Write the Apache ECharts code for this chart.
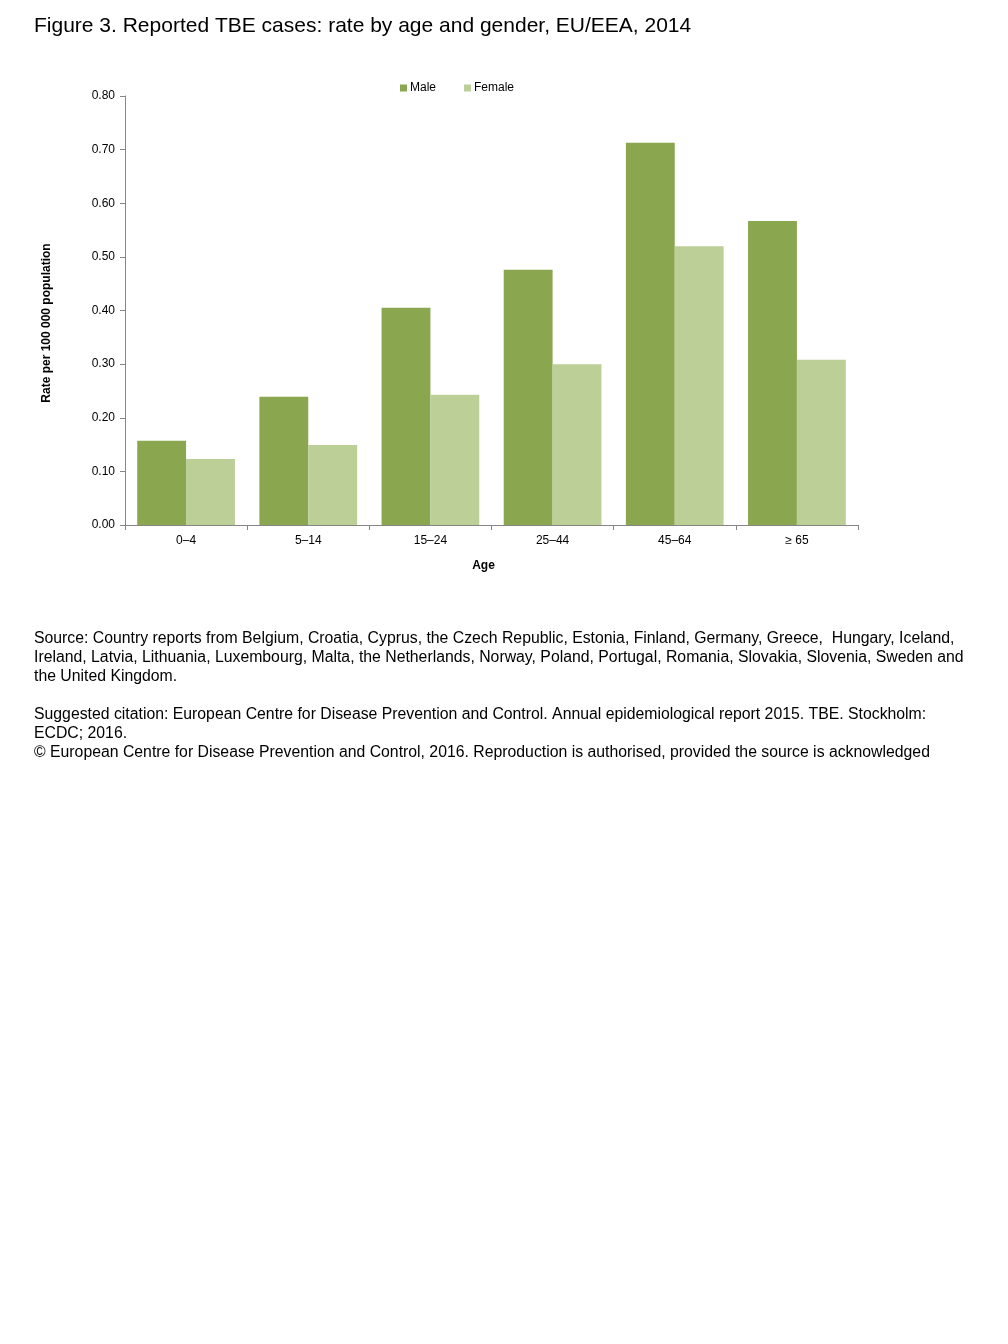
<!DOCTYPE html>
<html><head><meta charset="utf-8">
<script src="https://cdn.jsdelivr.net/npm/echarts@6/dist/echarts.min.js"></script>
<style>html,body{margin:0;padding:0;background:#fff}#c{width:1008px;height:1344px}</style>
</head><body><div id="c"></div>
<script>
const categories = ['0\u20134', '5\u201314', '15\u201324', '25\u201344', '45\u201364', '\u2265 65'];
const maleRates = [0.157, 0.239, 0.405, 0.476, 0.713, 0.567];
const femaleRates = [0.123, 0.149, 0.243, 0.300, 0.520, 0.308];
const yTicks = { min: 0, max: 0.8, interval: 0.1 };
const titleText = 'Figure 3. Reported TBE cases: rate by age and gender, EU/EEA, 2014';
const yAxisTitle = 'Rate per 100 000 population';
const footerLines = [
  'Source: Country reports from Belgium, Croatia, Cyprus, the Czech Republic, Estonia, Finland, Germany, Greece,  Hungary, Iceland,',
  'Ireland, Latvia, Lithuania, Luxembourg, Malta, the Netherlands, Norway, Poland, Portugal, Romania, Slovakia, Slovenia, Sweden and',
  'the United Kingdom.',
  '',
  'Suggested citation: European Centre for Disease Prevention and Control. Annual epidemiological report 2015. TBE. Stockholm:',
  'ECDC; 2016.',
  '\u00a9 European Centre for Disease Prevention and Control, 2016. Reproduction is authorised, provided the source is acknowledged'
];
const FONT = 'Liberation Sans, Arial, sans-serif';
const chart = echarts.init(document.getElementById('c'), null, {renderer: 'canvas'});
const footerGraphics = footerLines.map((t, i) => ({
  type: 'text', left: 34, top: 631 + i * 19,
  style: { text: t, font: '15.8px ' + FONT, fill: '#000' }
}));
chart.setOption({
  animation: false,
  textStyle: { fontFamily: FONT },
  graphic: [
    { type: 'text', left: 34, top: 16, style: { text: titleText, font: '21px ' + FONT, fill: '#000' } },
    { type: 'text', x: 47, y: 323, rotation: Math.PI / 2,
      style: { text: yAxisTitle, font: 'bold 12px ' + FONT, fill: '#000', align: 'center', verticalAlign: 'middle' } },
    ...footerGraphics
  ],
  legend: {
    top: 77, left: 395, itemWidth: 7, itemHeight: 7, itemGap: 28,
    icon: 'rect', textStyle: { fontSize: 12, color: '#000', fontFamily: FONT, padding: [0, 0, 0, -2] },
    data: ['Male', 'Female']
  },
  grid: { left: 125, right: 150, top: 96, bottom: 1344 - 525, containLabel: false },
  xAxis: {
    type: 'category', data: categories,
    name: 'Age', nameLocation: 'middle', nameGap: 35,
    nameTextStyle: { fontWeight: 'bold', fontSize: 12, color: '#000', fontFamily: FONT, padding: [0, 16, 0, 0] },
    axisLine: { lineStyle: { color: '#868686', width: 1 } },
    axisTick: { show: true, alignWithLabel: false, length: 5, lineStyle: { color: '#868686' } },
    axisLabel: { color: '#000', fontSize: 12, margin: 10, fontFamily: FONT }
  },
  yAxis: {
    type: 'value', min: yTicks.min, max: yTicks.max, interval: yTicks.interval,
    axisLine: { show: true, lineStyle: { color: '#868686', width: 1 } },
    axisTick: { show: true, length: 5, lineStyle: { color: '#868686' } },
    splitLine: { show: false },
    axisLabel: { color: '#000', fontSize: 12, margin: 10, formatter: v => v.toFixed(2), fontFamily: FONT }
  },
  series: [
    { name: 'Male', type: 'bar', data: maleRates, barGap: '0%', barCategoryGap: '20%',
      itemStyle: { color: '#8aa64e' } },
    { name: 'Female', type: 'bar', data: femaleRates, barGap: '0%', barCategoryGap: '20%',
      itemStyle: { color: '#bbcf97' } }
  ]
});
</script></body></html>
